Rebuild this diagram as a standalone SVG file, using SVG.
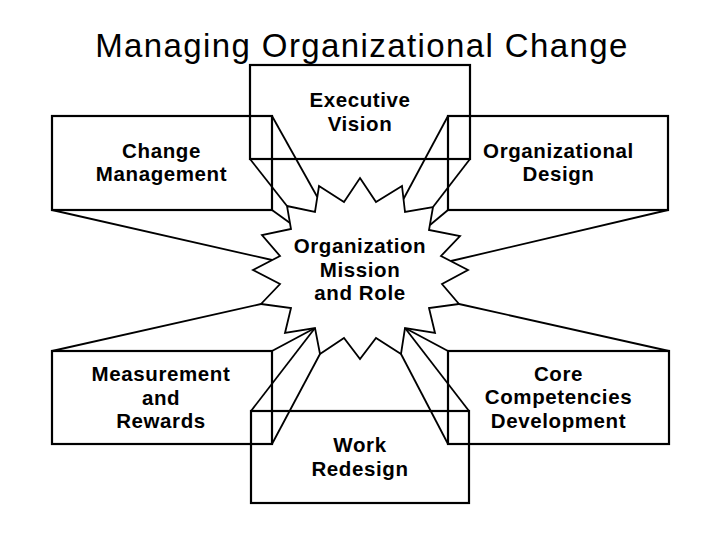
<svg xmlns="http://www.w3.org/2000/svg" width="720" height="540" viewBox="0 0 720 540">
<style>
.box{fill:none;stroke:#000;stroke-width:2.2}
.star{fill:#fff;stroke:#000;stroke-width:1.8;stroke-linejoin:miter}
.con line{stroke:#000;stroke-width:1.8}
.lbl{font-family:"Liberation Sans",Arial,sans-serif;font-weight:bold;font-size:20.5px;letter-spacing:0.6px;text-anchor:middle;fill:#000}
.title{font-family:"Liberation Sans",Arial,sans-serif;font-size:33px;letter-spacing:1.4px;text-anchor:middle;fill:#000}
</style>
<rect width="720" height="540" fill="#fff"/>
<text class="title" x="362" y="57">Managing Organizational Change</text>

<g id="executive-vision">
<rect class="box" x="250" y="65" width="220" height="94"/>
<text class="lbl" x="360" y="106.5">Executive</text>
<text class="lbl" x="360" y="130.5">Vision</text>
</g>
<g id="change-management">
<rect class="box" x="52" y="116" width="220" height="94"/>
<text class="lbl" x="161.5" y="157.5">Change</text>
<text class="lbl" x="161.5" y="180.7">Management</text>
</g>
<g id="organizational-design">
<rect class="box" x="448" y="116" width="220" height="94"/>
<text class="lbl" x="558.5" y="157.5">Organizational</text>
<text class="lbl" x="558.5" y="180.7">Design</text>
</g>
<g id="measurement-rewards">
<rect class="box" x="52" y="351" width="220" height="93"/>
<text class="lbl" x="161" y="381">Measurement</text>
<text class="lbl" x="161" y="404.5">and</text>
<text class="lbl" x="161" y="428.3">Rewards</text>
</g>
<g id="work-redesign">
<rect class="box" x="251" y="411" width="218" height="92"/>
<text class="lbl" x="360" y="451.5">Work</text>
<text class="lbl" x="360" y="475.5">Redesign</text>
</g>
<g id="core-competencies">
<rect class="box" x="448" y="351" width="221" height="93"/>
<text class="lbl" x="558.5" y="380.7">Core</text>
<text class="lbl" x="558.5" y="404.2">Competencies</text>
<text class="lbl" x="558.5" y="428.3">Development</text>
</g>

<g id="connectors" class="con">
<line x1="272" y1="116" x2="317.3" y2="197"/>
<line x1="272" y1="210" x2="290" y2="223"/>
<line x1="52" y1="210" x2="272" y2="260"/>
<line x1="250" y1="159" x2="287" y2="206"/>
<line x1="470" y1="159" x2="433" y2="207"/>
<line x1="448" y1="116" x2="403.5" y2="199"/>
<line x1="448" y1="210" x2="430" y2="225"/>
<line x1="668" y1="210" x2="451" y2="261"/>
<line x1="52" y1="351" x2="261" y2="304"/>
<line x1="272" y1="351" x2="315" y2="328"/>
<line x1="272" y1="444" x2="320" y2="354"/>
<line x1="251" y1="411" x2="315" y2="328"/>
<line x1="469" y1="411" x2="405" y2="328"/>
<line x1="448" y1="351" x2="405" y2="328"/>
<line x1="669" y1="351" x2="459" y2="304"/>
<line x1="448" y1="444" x2="401" y2="354"/>
</g>

<g id="organization-mission">
<polygon class="star" points="360,178 376,202 402,186 405,212 433,207 429,230 460,236 441,256 468,270 442,284 459,304 429,308 435,333 405,328 401,354 376,338 360,359 344,338 320,354 315,328 285,333 291,308 261,304 280,284 253,270 280,256 262,235 291,229 287,206 315,212 319,186 344,202"/>
<text class="lbl" x="360" y="253.3">Organization</text>
<text class="lbl" x="360" y="276.7">Mission</text>
<text class="lbl" x="360" y="300">and Role</text>
</g>
</svg>
